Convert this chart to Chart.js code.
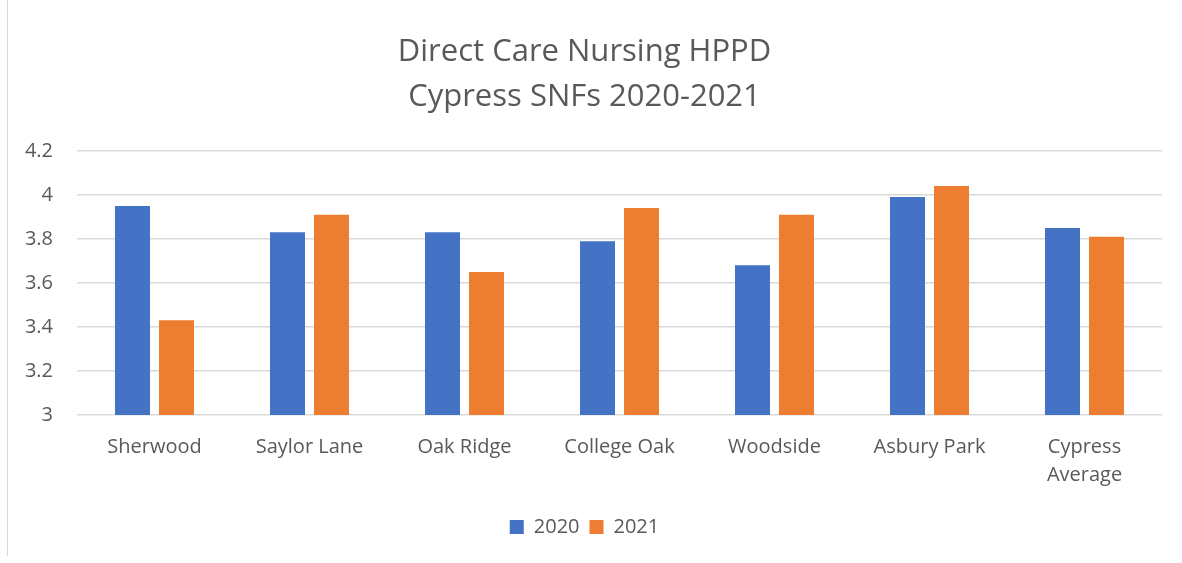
<!DOCTYPE html>
<html>
<head>
<meta charset="utf-8">
<script src="https://cdn.jsdelivr.net/npm/chart.js@4.4.0/dist/chart.umd.min.js"></script>
<style>
  html, body { margin: 0; padding: 0; background: #fff; }
  #wrap { position: relative; width: 1182px; height: 563px; }
  #frame { position: absolute; left: 7px; top: 0; height: 556px; border-left: 1px solid #d9d9d9; }
</style>
</head>
<body>
<div id="wrap">
  <div id="frame"></div>
  <canvas id="hppdChart" width="1182" height="563"></canvas>
</div>
<script>
// facilities on the x axis
const facilities = ['Sherwood', 'Saylor Lane', 'Oak Ridge', 'College Oak', 'Woodside', 'Asbury Park', ['Cypress', 'Average']];
// hours per patient day
const hppd2020 = [3.95, 3.83, 3.83, 3.79, 3.68, 3.99, 3.85];
const hppd2021 = [3.43, 3.91, 3.65, 3.94, 3.91, 4.04, 3.81];
const titleLines = ['Direct Care Nursing HPPD', 'Cypress SNFs 2020-2021'];

const textColor = '#595959';
const fontFamily = '"Open Sans", "Noto Sans", sans-serif';

const ctx = document.getElementById('hppdChart').getContext('2d');
new Chart(ctx, {
  type: 'bar',
  data: {
    labels: facilities,
    datasets: [
      { label: '2020', data: hppd2020, backgroundColor: '#4472C4' },
      { label: '2021', data: hppd2021, backgroundColor: '#ED7D31' }
    ]
  },
  options: {
    responsive: false,
    animation: false,
    layout: { padding: { left: 7, right: 20, top: 0, bottom: 16 } },
    datasets: {
      bar: { categoryPercentage: 0.568, barPercentage: 0.795 }
    },
    plugins: {
      title: {
        display: true,
        text: titleLines,
        color: textColor,
        font: { family: fontFamily, size: 31, weight: 'normal', lineHeight: 1.45 },
        padding: { top: 30, bottom: 31 }
      },
      legend: {
        position: 'bottom',
        labels: {
          color: textColor,
          font: { family: fontFamily, size: 20 },
          boxWidth: 14,
          boxHeight: 14,
          padding: 10
        }
      },
      tooltip: { enabled: false }
    },
    scales: {
      x: {
        grid: { display: false, drawTicks: false },
        border: { display: false },
        ticks: {
          color: textColor,
          font: { family: fontFamily, size: 20, lineHeight: 1.4 },
          padding: 18,
          maxRotation: 0
        }
      },
      y: {
        min: 3,
        max: 4.2,
        afterFit: scale => { scale.width = 70; },
        grid: { color: '#d9d9d9', lineWidth: 1.5, drawTicks: false },
        border: { display: false },
        ticks: {
          stepSize: 0.2,
          color: textColor,
          font: { family: fontFamily, size: 20 },
          padding: 24,
          callback: value => String(Math.round(value * 10) / 10)
        }
      }
    }
  }
});
</script>
</body>
</html>
